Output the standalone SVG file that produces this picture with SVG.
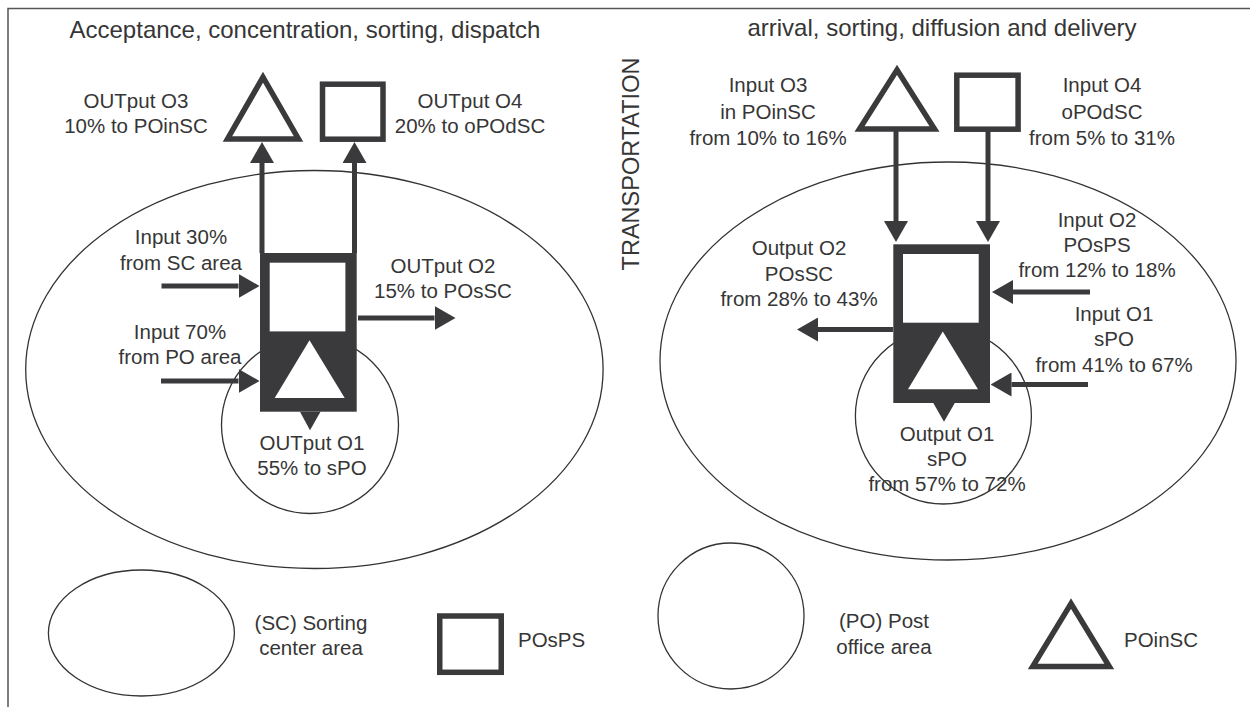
<svg xmlns="http://www.w3.org/2000/svg" width="1250" height="707" viewBox="0 0 1250 707">
<style>
  text { font-family: "Liberation Sans", Arial, sans-serif; fill: #363636; }
  .lbl { font-size: 20.5px; text-anchor: middle; }
  .ttl { font-size: 24px; text-anchor: middle; }
  .area { fill: none; stroke: #333; stroke-width: 1.3; }
  .shape { fill: #fff; stroke: #3a3a3c; stroke-width: 5.5; }
  .dark { fill: #3a3a3c; }
  .conn line { stroke: #3a3a3c; stroke-width: 5; marker-end: url(#head); }
</style>
<defs>
  <marker id="head" viewBox="0 -12 21 24" refX="0" refY="0" markerWidth="21" markerHeight="24" markerUnits="userSpaceOnUse" orient="auto">
    <path d="M0,-12 L21,0 L0,12 z" fill="#3a3a3c"/>
  </marker>
  <g id="proc">
    <rect x="0" y="0" width="96.7" height="158.7" class="dark"/>
    <rect x="9.7" y="9.7" width="75.7" height="68.7" fill="#fff"/>
    <polygon points="49.5,87.3 14.7,145 84.7,145" fill="#fff"/>
  </g>
</defs>

<path d="M8,707 V8.5 H1250" fill="none" stroke="#555" stroke-width="1.5"/>

<g id="titles">
  <text class="ttl" x="305" y="38">Acceptance, concentration, sorting, dispatch</text>
  <text class="ttl" x="942" y="36">arrival, sorting, diffusion and delivery</text>
  <text x="639" y="164" font-size="23.5" text-anchor="middle" transform="rotate(-90 639 164)">TRANSPORTATION</text>
</g>

<!-- Left side areas -->
<g id="sc-area-left"><ellipse class="area" cx="314.4" cy="369.5" rx="288.7" ry="199"/></g>
<g id="po-area-left"><ellipse class="area" cx="310" cy="425" rx="88.5" ry="88.5"/></g>
<!-- Right side areas -->
<g id="sc-area-right"><ellipse class="area" cx="948" cy="361" rx="288" ry="199"/></g>
<g id="po-area-right"><ellipse class="area" cx="943.4" cy="416" rx="88" ry="88"/></g>

<!-- Left side nodes -->
<g id="left-process"><use href="#proc" transform="translate(260,253)"/></g>
<g id="left-o3"><polygon class="shape" points="263,77.2 227.5,139 298.5,139"/></g>
<g id="left-o4"><rect class="shape" x="322.5" y="84.2" width="60.5" height="55"/></g>

<!-- Right side nodes -->
<g id="right-process"><use href="#proc" transform="translate(893.3,244.3)"/></g>
<g id="right-o3"><polygon class="shape" points="897,69.9 859.5,129.1 934.5,129.1"/></g>
<g id="right-o4"><rect class="shape" x="956.8" y="75.2" width="61.3" height="54"/></g>

<!-- Connectors -->
<g id="connectors" class="conn">
  <line x1="262" y1="253" x2="262" y2="163"/>
  <line x1="354.5" y1="253" x2="354.5" y2="163"/>
  <line x1="161.5" y1="286" x2="238.5" y2="286"/>
  <line x1="161" y1="381" x2="238.5" y2="381"/>
  <line x1="358" y1="318" x2="434.5" y2="318"/>
  <polygon class="dark" points="300,411.7 320.5,411.7 310,430.3"/>

  <line x1="896" y1="131" x2="896" y2="221"/>
  <line x1="988" y1="131" x2="988" y2="221"/>
  <line x1="893" y1="329.5" x2="818" y2="329.5"/>
  <line x1="1090" y1="292" x2="1013" y2="292"/>
  <line x1="1088" y1="384.5" x2="1011.5" y2="384.5"/>
  <polygon class="dark" points="933.3,403 954.8,403 944,421.7"/>
</g>

<!-- Left labels -->
<g id="lbl-left-o3"><text class="lbl" x="136" y="108.3">OUTput O3</text><text class="lbl" x="136" y="133.3">10% to POinSC</text></g>
<g id="lbl-left-o4"><text class="lbl" x="470" y="108.3">OUTput O4</text><text class="lbl" x="470" y="133.3">20% to oPOdSC</text></g>
<g id="lbl-left-in30"><text class="lbl" x="181" y="244">Input 30%</text><text class="lbl" x="181" y="269.5">from SC area</text></g>
<g id="lbl-left-o2"><text class="lbl" x="443" y="273.3">OUTput O2</text><text class="lbl" x="443" y="298.3">15% to POsSC</text></g>
<g id="lbl-left-in70"><text class="lbl" x="180" y="339.3">Input 70%</text><text class="lbl" x="180" y="364.3">from PO area</text></g>
<g id="lbl-left-o1"><text class="lbl" x="312" y="450">OUTput O1</text><text class="lbl" x="312" y="475">55% to sPO</text></g>

<!-- Right labels -->
<g id="lbl-right-o3"><text class="lbl" x="768" y="92">Input O3</text><text class="lbl" x="768" y="118.5">in POinSC</text><text class="lbl" x="768" y="145">from 10% to 16%</text></g>
<g id="lbl-right-o4"><text class="lbl" x="1102" y="92">Input O4</text><text class="lbl" x="1102" y="118.5">oPOdSC</text><text class="lbl" x="1102" y="145">from 5% to 31%</text></g>
<g id="lbl-right-o2out"><text class="lbl" x="799" y="255">Output O2</text><text class="lbl" x="799" y="280.5">POsSC</text><text class="lbl" x="799" y="306">from 28% to 43%</text></g>
<g id="lbl-right-o2in"><text class="lbl" x="1097" y="226.5">Input O2</text><text class="lbl" x="1097" y="251.5">POsPS</text><text class="lbl" x="1097" y="276.7">from 12% to 18%</text></g>
<g id="lbl-right-o1in"><text class="lbl" x="1114" y="320.5">Input O1</text><text class="lbl" x="1114" y="346">sPO</text><text class="lbl" x="1114" y="371.7">from 41% to 67%</text></g>
<g id="lbl-right-o1out"><text class="lbl" x="947" y="441">Output O1</text><text class="lbl" x="947" y="466">sPO</text><text class="lbl" x="947" y="491">from 57% to 72%</text></g>

<!-- Legend -->
<g id="legend-sc"><ellipse class="area" cx="141.4" cy="633" rx="93" ry="63"/><text class="lbl" x="311" y="630">(SC) Sorting</text><text class="lbl" x="311" y="655">center area</text></g>
<g id="legend-posps"><rect class="shape" x="439.75" y="616" width="61.5" height="56.3"/><text x="518" y="646.7" font-size="20.5">POsPS</text></g>
<g id="legend-po"><ellipse class="area" cx="731" cy="616" rx="73" ry="73"/><text class="lbl" x="884" y="628.3">(PO) Post</text><text class="lbl" x="884" y="654">office area</text></g>
<g id="legend-poinsc"><polygon class="shape" points="1071,603.6 1032.7,666.6 1109.3,666.6"/><text x="1124" y="646.7" font-size="20.5">POinSC</text></g>
</svg>
